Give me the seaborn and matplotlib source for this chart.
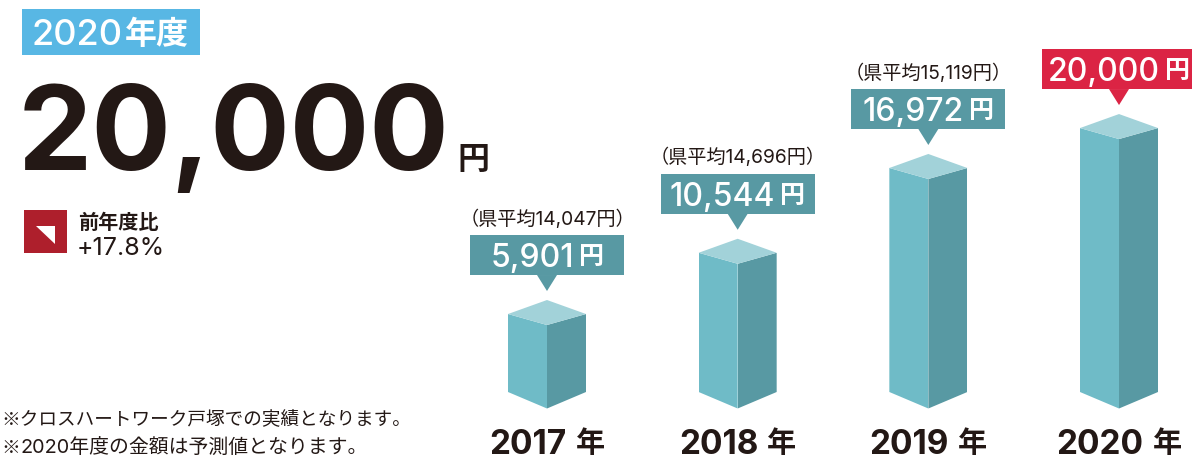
import matplotlib
matplotlib.use('Agg')
import matplotlib.pyplot as plt
from matplotlib.patches import Polygon, Rectangle
import pandas as pd
import seaborn as sns

years = ['2017', '2018', '2019', '2020']
amounts = [5901, 10544, 16972, 20000]
pref_avg = [14047, 14696, 15119, None]
current_year = '2020'
current_unit = '年度'
total_label = '20,000'
change_title = '前年度比'
change_label = '+17.8%'
notes = ['※クロスハートワーク戸塚での実績となります。', '※2020年度の金額は予測値となります。']

DARK = '#231815'
TEAL = '#5899A3'
FACE = '#6FBBC7'
TOP = '#A2D2D9'
RED = '#DB2444'
W, H = 1192, 459

sns.set_theme(style='white')
plt.rcParams['font.family'] = ['Inter', 'Noto Sans CJK JP', 'DejaVu Sans']

fig = plt.figure(figsize=(W / 100, H / 100), dpi=100)
ax = fig.add_axes([0, 0, 1, 1])

# long table, every bar twice: left and right face of the block
df = pd.DataFrame({'year': years * 2, 'amount': amounts * 2,
                   'face': ['left'] * 4 + ['right'] * 4})
sns.barplot(data=df, x='year', y='amount', hue='face', palette={'left': FACE, 'right': TEAL},
            width=0.408, gap=0, errorbar=None, legend=False, ax=ax, saturation=1, linewidth=0)

# y scale: 0 yen sits at pixel 402.85, 0.01319 px per yen
step = 190.67
scale = 0.01319
zero_px = 402.85
ax.set_xlim(-547 / step, (W - 547) / step)
ax.set_ylim((zero_px - H) / scale, zero_px / scale)
ax.axis('off')

over = fig.add_axes([0, 0, 1, 1], zorder=5)
over.set_xlim(0, W)
over.set_ylim(H, 0)
over.axis('off')
over.patch.set_alpha(0)
renderer = fig.canvas.get_renderer()


def number_unit(cx, y, num, unit, size, unit_size, gap, color, weight, unit_weight):
    # number and unit have different sizes, so centre them as one group
    a = over.text(0, y, num, color=color, fontsize=size, fontweight=weight, ha='left', va='center_baseline')
    b = over.text(0, y, unit, color=color, fontsize=unit_size, fontweight=unit_weight, ha='left', va='center_baseline')
    wa = a.get_window_extent(renderer).width
    wb = b.get_window_extent(renderer).width
    start = cx - (wa + gap + wb) / 2
    a.set_x(start)
    b.set_x(start + wa + gap)


half = 39
for i, amount in enumerate(amounts):
    cx = ax.transData.transform((i, 0))[0]
    top_y = H - ax.transData.transform((0, amount))[1]
    base = 408.5
    ybase = (zero_px - base) / scale
    yup = amount + 11 / scale

    # faces come from the seaborn bars, cut to the block outline
    left = ax.containers[0][i]
    right = ax.containers[1][i]
    for bar in (left, right):
        bar.set_y(ybase)
        bar.set_height(yup - ybase)
    lp = Polygon([(cx - half, base - 16.5), (cx, base), (cx, top_y), (cx - half, top_y - 11)],
                 transform=over.transData)
    rp = Polygon([(cx + half, base - 16.5), (cx, base), (cx, top_y), (cx + half, top_y - 11)],
                 transform=over.transData)
    left.set_clip_path(lp)
    right.set_clip_path(rp)
    over.add_patch(Polygon([(cx, top_y), (cx - half, top_y - 11), (cx, top_y - 25), (cx + half, top_y - 11)],
                           color=TOP, lw=0))

    # callout over the block
    tip = top_y - 34
    col = RED if years[i] == current_year else TEAL
    over.add_patch(Rectangle((cx - 77, tip - 56), 154, 40, color=col, lw=0))
    over.add_patch(Polygon([(cx - 10, tip - 16), (cx + 10, tip - 16), (cx, tip)], color=col, lw=0))
    number_unit(cx, tip - 36, f'{amount:,}', '円', 23, 18, 5, 'white', 'medium', 'bold')
    if pref_avg[i] is not None:
        over.text(cx, tip - 74, f'（県平均{pref_avg[i]:,}円）', color=DARK, fontsize=13.8,
                  ha='center', va='center_baseline')
    number_unit(cx, 441.5, years[i], '年', 24, 21, 9, DARK, 'bold', 'bold')

# left panel
over.add_patch(Rectangle((22, 9), 178, 46, color='#58B7E4', lw=0))
number_unit(110, 32, current_year, current_unit, 26, 23, 3, 'white', 'medium', 'bold')
over.text(18, 170, total_label, color=DARK, fontsize=85, fontweight='bold', ha='left', va='baseline')
over.text(473.5, 157, '円', color=DARK, fontsize=23, fontweight='bold', ha='center', va='center_baseline')
over.add_patch(Rectangle((24, 210), 43, 43, color='#AE1F2C', lw=0))
over.add_patch(Polygon([(36, 226), (55, 226), (55, 244)], color='white', lw=0))
over.text(78, 221, change_title, color=DARK, fontsize=14.5, fontweight='bold', ha='left', va='center_baseline')
over.text(77, 246, change_label, color=DARK, fontsize=18, ha='left', va='center_baseline')
note_font = ['Noto Sans CJK JP', 'DejaVu Sans']
over.text(1, 418, notes[0], color=DARK, fontsize=13.4, family=note_font, ha='left', va='center_baseline')
# Inter's mark is small, so it gets the CJK face on its own; the wide digits stay Inter
over.text(1, 446, notes[1][0], color=DARK, fontsize=13.4, family=note_font, ha='left', va='center_baseline')
over.text(20, 446, notes[1][1:], color=DARK, fontsize=14.3, ha='left', va='center_baseline')

fig.savefig('out.png', dpi=100)
